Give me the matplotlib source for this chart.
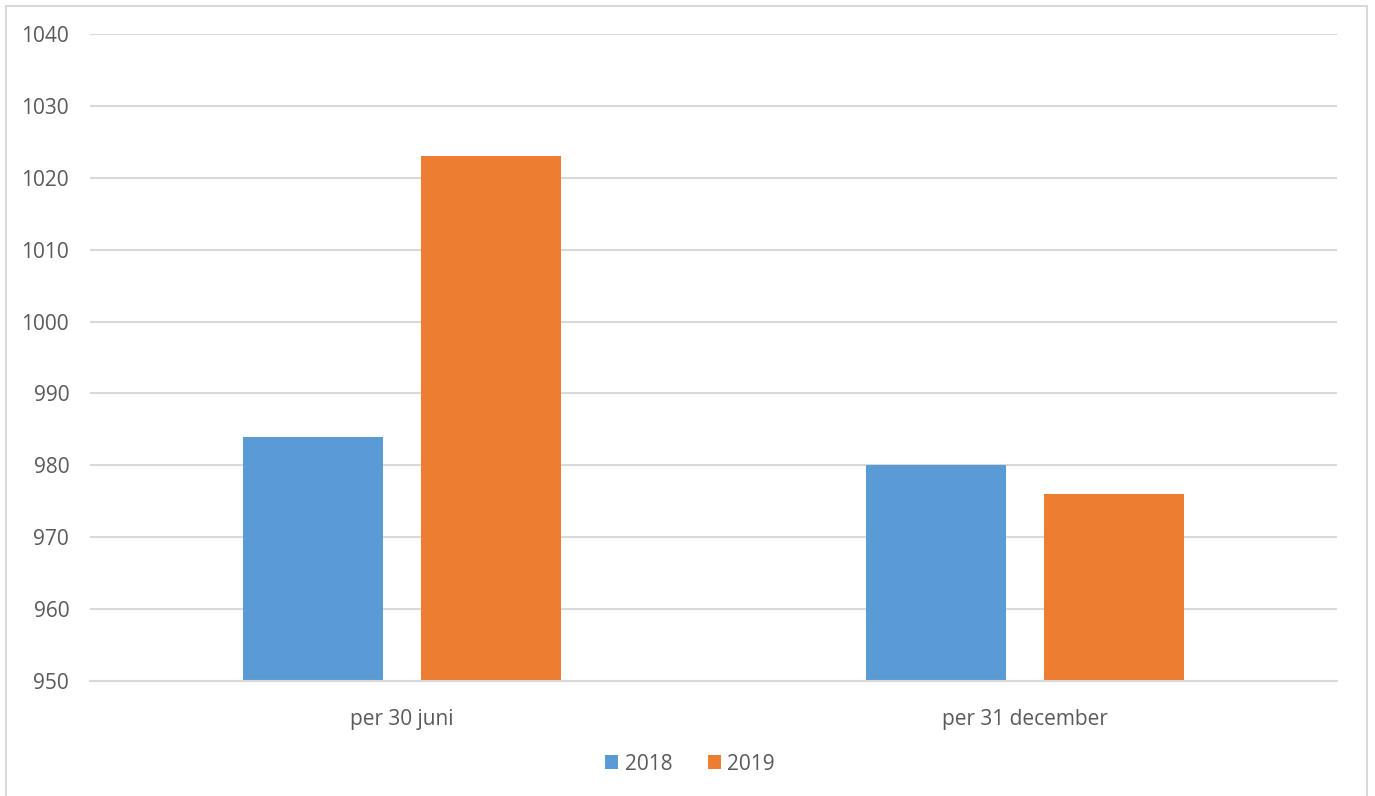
import matplotlib
matplotlib.use("Agg")
import matplotlib.pyplot as plt
import numpy as np
from matplotlib.patches import Rectangle

categories = ["per 30 juni", "per 31 december"]
series_names = ["2018", "2019"]
values_2018 = [984, 980]
values_2019 = [1023, 976]
yticks = [950, 960, 970, 980, 990, 1000, 1010, 1020, 1030, 1040]

colors = ["#5B9BD5", "#ED7D31"]
text_color = "#595959"

plt.rcParams['font.family'] = ['Open Sans', 'DejaVu Sans']

W, H = 1375, 796
fig = plt.figure(figsize=(W/100, H/100), dpi=100)
ax = fig.add_axes([90/W, 1-681/H, (1337-90)/W, (681-34)/H])

x = np.arange(len(categories))
bw = 0.2245
gap = 0.061
off = (bw + gap) / 2
ax.bar(x - off, [v - 950 for v in values_2018], bottom=950, width=bw, color=colors[0], label=series_names[0], zorder=3)
ax.bar(x + off, [v - 950 for v in values_2019], bottom=950, width=bw, color=colors[1], label=series_names[1], zorder=3)

ax.set_xlim(-0.5, 1.5)
ax.set_ylim(950, 1040)
ax.set_yticks(yticks)
ax.set_yticklabels([str(t) for t in yticks])
ax.set_xticks(x)
ax.set_xticklabels(categories)
ax.yaxis.grid(True, color="#D9D9D9", linewidth=1.5, zorder=0)
ax.set_axisbelow(True)
for s in ["top", "right", "left"]:
    ax.spines[s].set_visible(False)
ax.spines["bottom"].set_color("#D9D9D9")
ax.spines["bottom"].set_linewidth(1.5)
ax.spines["bottom"].set_zorder(4)
ax.tick_params(axis="both", length=0, colors=text_color, labelsize=15)
ax.tick_params(axis="y", pad=15)
ax.tick_params(axis="x", pad=20)

leg = fig.legend(loc="center", bbox_to_anchor=(690/W, 1-764/H), ncol=2, frameon=False,
                 fontsize=15, handlelength=0.65, handleheight=0.65, handletextpad=0.3,
                 columnspacing=1.7, labelcolor=text_color)

fig.patches.append(Rectangle((6/W, -0.1), (1367-6)/W, 1.1 - 6/H, transform=fig.transFigure,
                             fill=False, edgecolor="#D9D9D9", linewidth=1.5))

fig.savefig("out.png", dpi=100)
